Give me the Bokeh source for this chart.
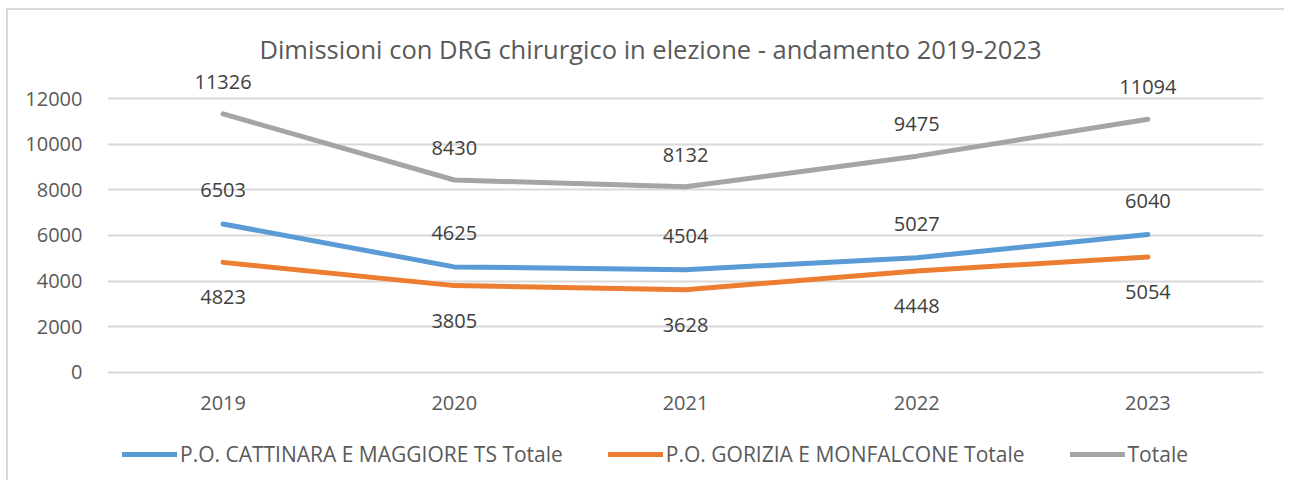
from bokeh.plotting import figure
from bokeh.layouts import column
from bokeh.models import ColumnDataSource, Legend, LegendItem, FixedTicker, LabelSet, Label, Range1d
from bokeh.core.properties import value
from bokeh.embed import file_html
from bokeh.resources import INLINE

years = ["2019", "2020", "2021", "2022", "2023"]
cattinara = [6503, 4625, 4504, 5027, 6040]
gorizia = [4823, 3805, 3628, 4448, 5054]
totale = [11326, 8430, 8132, 9475, 11094]
y_ticks = [0, 2000, 4000, 6000, 8000, 10000, 12000]
title_text = "Dimissioni con DRG chirurgico in elezione - andamento 2019-2023"

FONT = "Open Sans"
TXT = "#595959"
W = 1276

# title strip
p0 = figure(x_range=Range1d(0, 1156), y_range=Range1d(0, 58), width=W, height=58,
            output_backend="svg", toolbar_location=None, min_border=0)
p0.axis.visible = False
p0.grid.visible = False
p0.outline_line_color = None
p0.add_layout(Label(x=543, y=20, text=title_text, text_align="center", text_baseline="middle",
                    text_font=FONT, text_font_size="25.5px", text_color=TXT))

# main chart (frame extends above 12000 so the top value labels stay visible)
p = figure(x_range=years, y_range=Range1d(-88, 13314), width=W, height=352,
           output_backend="svg", toolbar_location=None,
           min_border_left=99, min_border_right=21, min_border_top=0, min_border_bottom=46)
p.outline_line_color = None
p.xgrid.grid_line_color = None
p.ygrid.grid_line_color = "#d9d9d9"
p.ygrid.grid_line_width = 2
p.yaxis.ticker = FixedTicker(ticks=y_ticks)
for ax in (p.xaxis, p.yaxis):
    ax.axis_line_color = None
    ax.major_tick_line_color = None
    ax.minor_tick_line_color = None
    ax.major_label_text_font = FONT
    ax.major_label_text_font_size = "20px"
    ax.major_label_text_color = TXT
p.yaxis.major_label_standoff = 19
p.xaxis.major_label_standoff = 15

series = [
    ("P.O. CATTINARA E MAGGIORE TS Totale", cattinara, "#5B9BD5", -34),
    ("P.O. GORIZIA E MONFALCONE Totale", gorizia, "#ED7D31", 35),
    ("Totale", totale, "#A5A5A5", -32),
]

# legend strip below the chart
p2 = figure(x_range=years, y_range=Range1d(0, 1), width=W, height=60,
            output_backend="svg", toolbar_location=None, min_border=0)
p2.axis.visible = False
p2.grid.visible = False
p2.outline_line_color = None

items = []
for name, vals, color, off in series:
    src = ColumnDataSource(dict(x=years, y=vals, t=[str(v) for v in vals]))
    p.line("x", "y", source=src, line_color=color, line_width=5, line_cap="round", line_join="round")
    p.add_layout(LabelSet(x="x", y="y", text="t", source=src, y_offset=-off,
                          text_align="center", text_baseline="middle",
                          text_font=value(FONT), text_font_size="20px", text_color="#404040"))
    r2 = p2.line("x", "y", source=src, line_color=color, line_width=5, line_cap="round")
    items.append(LegendItem(label=name, renderers=[r2]))

legend = Legend(items=items, orientation="horizontal", location=(15, 12),
                glyph_width=55, glyph_height=10, label_standoff=3, spacing=45,
                label_text_font=FONT, label_text_font_size="21px", label_text_color=TXT,
                border_line_color=None, background_fill_alpha=0, margin=0, padding=0)
p2.add_layout(legend, "center")

layout = column(p0, p, p2, spacing=0)
layout.styles = {"margin-left": "6px", "margin-top": "8px",
                 "border-left": "2px solid #d9d9d9", "border-top": "2px solid #d9d9d9"}
open("out.html", "w").write(file_html(layout, INLINE))
